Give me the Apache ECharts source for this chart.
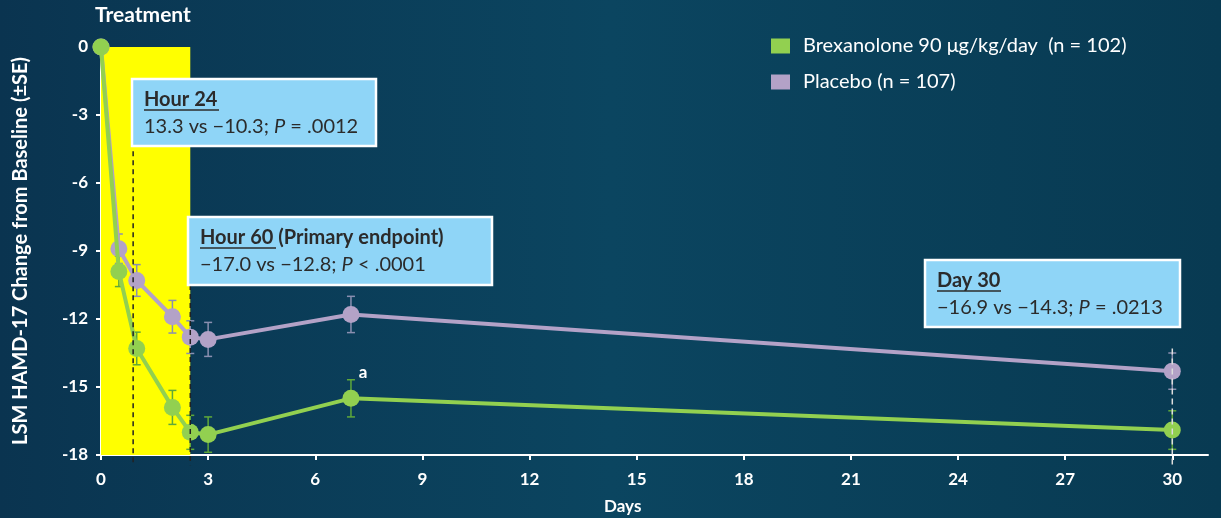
<!DOCTYPE html>
<html lang="en">
<head>
    <meta charset="UTF-8">
    <title>HAMD-17 Change from Baseline</title>
    <script src="https://cdn.jsdelivr.net/npm/echarts@6/dist/echarts.min.js"></script>
    <style>
        html, body { margin: 0; padding: 0; background: #0a3c55; }
        #chart { width: 1221px; height: 518px; }
    </style>
</head>
<body>
    <div id="chart"></div>
    <script>
        // 数据
        var days = [0, 0.5, 1, 2, 2.5, 3, 7, 30];
        var brexMean = [0, -9.9, -13.3, -15.9, -17.0, -17.1, -15.5, -16.9];
        var brexSE = [0, 0.67, 0.72, 0.75, 0.75, 0.78, 0.82, 0.85];
        var placeboMean = [0, -8.9, -10.3, -11.9, -12.8, -12.9, -11.8, -14.3];
        var placeboSE = [0, 0.65, 0.7, 0.72, 0.72, 0.75, 0.8, 0.8];
        var xTicks = [0, 3, 6, 9, 12, 15, 18, 21, 24, 27, 30];
        // 参考虚线: x, 上端, 下端
        var refX = [0.9, 2.5, 30];
        var refTop = [-4.6, -10.5, -13.3];
        var refBottom = [-18.45, -18.45, -18.45];
        var brexName = 'Brexanolone 90 μg/kg/day  (n = 102)';
        var placeboName = 'Placebo (n = 107)';

        var FONT = 'Lato, "Open Sans", sans-serif';
        var GREEN = '#92d050';
        var PURPLE = '#b3a2c7';

        function pairs(ys) {
            return days.map(function (d, i) { return [d, ys[i]]; });
        }
        function errData(ys, se) {
            var out = [];
            days.forEach(function (d, i) {
                if (se[i] > 0) out.push([d, ys[i] - se[i], ys[i] + se[i]]);
            });
            return out;
        }
        function errRender(color) {
            return function (params, api) {
                var x = api.value(0);
                var top = api.coord([x, api.value(2)]);
                var bot = api.coord([x, api.value(1)]);
                var s = { stroke: color, lineWidth: 1.5 };
                return {
                    type: 'group',
                    children: [
                        { type: 'line', shape: { x1: top[0], y1: top[1], x2: bot[0], y2: bot[1] }, style: s },
                        { type: 'line', shape: { x1: top[0] - 4, y1: top[1], x2: top[0] + 4, y2: top[1] }, style: s },
                        { type: 'line', shape: { x1: bot[0] - 4, y1: bot[1], x2: bot[0] + 4, y2: bot[1] }, style: s }
                    ]
                };
            };
        }
        function refRender(params, api) {
            var x = api.value(0);
            var p1 = api.coord([x, api.value(1)]);
            var p2 = api.coord([x, api.value(2)]);
            var last = params.dataIndex === refX.length - 1;
            return {
                type: 'line',
                shape: { x1: p1[0], y1: p1[1], x2: p2[0], y2: p2[1] },
                style: { stroke: last ? '#dddddd' : '#222222', lineWidth: 1.5, lineDash: last ? [6, 4] : [5, 4] }
            };
        }

        // 注释框
        function noteBox(x, y, w, h, title, titleRest, underlineW, line2) {
            return [
                { type: 'rect', z: 100, shape: { x: x, y: y, width: w, height: h },
                  style: { fill: '#8fd5f7', stroke: '#ffffff', lineWidth: 2.5 } },
                { type: 'text', z: 101, x: x + 12, y: y + 21,
                  style: { text: '{b|' + title + '}' + (titleRest ? '{b|' + titleRest + '}' : ''),
                           verticalAlign: 'middle',
                           rich: { b: { font: 'bold 20px ' + FONT, fill: '#2b2b2b' } } } },
                { type: 'line', z: 101, shape: { x1: x + 12, y1: y + 31, x2: x + 12 + underlineW, y2: y + 31 },
                  style: { stroke: '#2b2b2b', lineWidth: 1.5 } },
                { type: 'text', z: 101, x: x + 12, y: y + 48,
                  style: { text: line2, verticalAlign: 'middle',
                           rich: {
                               n: { font: '20px ' + FONT, fill: '#2b2b2b' },
                               i: { font: 'italic 20px ' + FONT, fill: '#2b2b2b' }
                           } } }
            ];
        }

        var chart = echarts.init(document.getElementById('chart'));
        chart.setOption({
            backgroundColor: new echarts.graphic.LinearGradient(0, 0, 1, 0, [
                { offset: 0, color: '#0a3450' },
                { offset: 0.5, color: '#0b4560' },
                { offset: 1, color: '#083a52' }
            ]),
            textStyle: { fontFamily: FONT },
            animation: false,
            grid: { left: 101, right: 13, top: 47, bottom: 63 },
            legend: {
                orient: 'vertical',
                left: 766,
                top: 31,
                icon: 'rect',
                itemWidth: 19,
                itemHeight: 15,
                itemGap: 16,
                data: [brexName, placeboName],
                textStyle: { color: '#ffffff', fontSize: 20, fontFamily: FONT, padding: [0, 0, 0, 8] }
            },
            xAxis: {
                type: 'value',
                min: 0,
                max: 31,
                interval: 3,
                splitLine: { show: false },
                axisLine: { onZero: false, lineStyle: { color: '#ffffff', width: 2 } },
                axisTick: { show: true, length: 5, customValues: xTicks, lineStyle: { color: '#ffffff', width: 2 } },
                axisLabel: { customValues: xTicks, color: '#ffffff', fontSize: 17, fontWeight: 'bold', margin: 16 }
            },
            yAxis: {
                type: 'value',
                min: -18,
                max: 0,
                interval: 3,
                name: 'LSM HAMD-17 Change from Baseline (±SE)',
                nameLocation: 'middle',
                nameRotate: 90,
                nameGap: 70,
                nameTextStyle: { color: '#ffffff', fontSize: 20, fontWeight: 'bold' },
                splitLine: { show: false },
                axisLine: { show: true, lineStyle: { color: '#ffffff', width: 2 } },
                axisTick: { show: true, length: 5, lineStyle: { color: '#ffffff', width: 2 } },
                axisLabel: { color: '#ffffff', fontSize: 17, fontWeight: 'bold', margin: 13 }
            },
            series: [
                {
                    // 治疗期
                    type: 'line',
                    data: [],
                    silent: true,
                    markArea: {
                        silent: true,
                        itemStyle: { color: '#ffff00' },
                        data: [[{ coord: [0, 0] }, { coord: [2.5, -18] }]]
                    },
                    z: 1
                },
                {
                    type: 'custom',
                    renderItem: errRender('#8a8fb0'),
                    data: errData(placeboMean, placeboSE),
                    z: 3,
                    silent: true
                },
                {
                    type: 'custom',
                    renderItem: errRender('#5fa83a'),
                    data: errData(brexMean, brexSE),
                    z: 3,
                    silent: true
                },
                {
                    name: placeboName,
                    type: 'line',
                    data: pairs(placeboMean),
                    symbol: 'circle',
                    symbolSize: 17,
                    itemStyle: { color: PURPLE },
                    lineStyle: { color: PURPLE, width: 4 },
                    z: 4
                },
                {
                    name: brexName,
                    type: 'line',
                    data: pairs(brexMean).map(function (p, i) {
                        if (days[i] === 7) {
                            return { value: p, label: { show: true, formatter: 'a', color: '#ffffff',
                                fontWeight: 'bold', fontSize: 17, position: 'top', offset: [12, -4] } };
                        }
                        return p;
                    }),
                    symbol: 'circle',
                    symbolSize: 17,
                    itemStyle: { color: GREEN },
                    lineStyle: { color: GREEN, width: 4 },
                    z: 5
                },
                {
                    // 参考虚线 (画在点上方)
                    type: 'custom',
                    renderItem: refRender,
                    data: refX.map(function (x, i) { return [x, refTop[i], refBottom[i]]; }),
                    z: 6,
                    silent: true
                }
            ],
            graphic: [
                { type: 'text', left: 95, top: 5, style: { text: 'Treatment', font: 'bold 21px ' + FONT, fill: '#ffffff' } },
                { type: 'text', left: 604, top: 498, style: { text: 'Days', font: 'bold 17px ' + FONT, fill: '#ffffff' } }
            ].concat(
                noteBox(132, 79, 244, 67, 'Hour 24', '', 75, '{n|13.3 vs −10.3; }{i|P}{n| = .0012}'),
                noteBox(188, 217, 304, 68, 'Hour 60', ' (Primary endpoint)', 76, '{n|−17.0 vs −12.8; }{i|P}{n| < .0001}'),
                noteBox(925, 260, 255, 67, 'Day 30', '', 64, '{n|−16.9 vs −14.3; }{i|P}{n| = .0213}')
            )
        });

        window.addEventListener('resize', function () {
            chart.resize();
        });
    </script>
</body>
</html>
